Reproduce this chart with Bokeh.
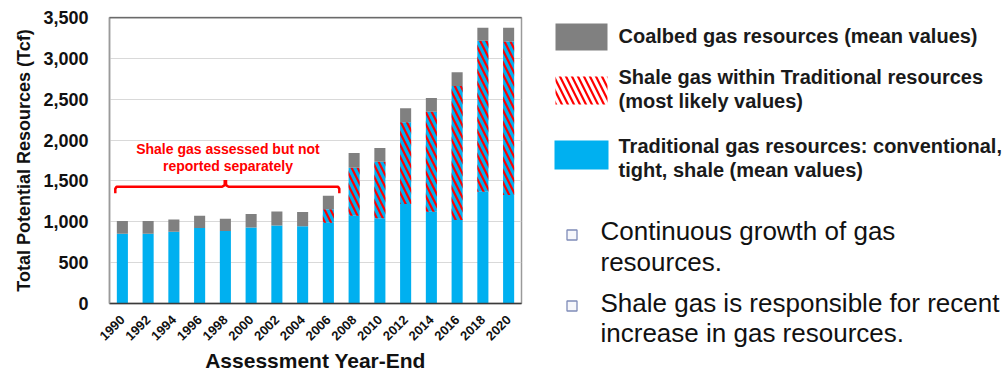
import numpy as np
from bokeh.plotting import figure
from bokeh.layouts import row
from bokeh.models import Range1d, FixedTicker, NumeralTickFormatter, Span, ColumnDataSource
from bokeh.core.properties import value
from bokeh.embed import file_html
from bokeh.resources import INLINE

# Assessment year-ends and resource estimates (Tcf)
years = [1990, 1992, 1994, 1996, 1998, 2000, 2002, 2004,
         2006, 2008, 2010, 2012, 2014, 2016, 2018, 2020]
traditional = [853, 853, 877, 923, 886, 931, 956, 944,
               988, 1074, 1042, 1217, 1123, 1021, 1368, 1327]
shale_within = [0, 0, 0, 0, 0, 0, 0, 0,
                164, 588, 693, 1001, 1225, 1642, 1847, 1879]
coalbed = [156, 156, 152, 151, 151, 163, 171, 175,
           167, 180, 168, 172, 168, 168, 159, 168]
y_ticks = [0, 500, 1000, 1500, 2000, 2500, 3000, 3500]

FONT_NAME = "Liberation Sans"
FONT = value(FONT_NAME)
BLUE = "#00B0F0"
GRAY = "#808080"
RED = "#FF0000"
INK = "#111111"
HATCH = dict(hatch_pattern="\\", hatch_color=RED, hatch_weight=2.2, hatch_scale=12)

t = np.array(traditional, dtype=float)
s = np.array(shale_within, dtype=float)
c = np.array(coalbed, dtype=float)
src = ColumnDataSource(dict(
    year=years,
    t_top=t,
    s_top=t + s,
    c_top=t + s + c,
))

p = figure(width=530, height=377, x_range=Range1d(1989, 2021), y_range=Range1d(0, 3500),
           output_backend="svg", toolbar_location=None,
           min_border_left=109, min_border_right=9, min_border_top=17, min_border_bottom=74)
p.frame_align = False
p.background_fill_color = "white"
p.border_fill_color = "white"
p.outline_line_color = "#9a9a9a"
p.outline_line_width = 1.5

bw = 0.86
p.vbar(x="year", bottom=0, top="t_top", width=bw, source=src, fill_color=BLUE, line_color=None)
p.vbar(x="year", bottom="t_top", top="s_top", width=bw, source=src, fill_color=BLUE, line_color=None,
       **HATCH)
p.vbar(x="year", bottom="s_top", top="c_top", width=bw, source=src, fill_color=GRAY, line_color=None)

p.add_layout(Span(location=3500, dimension="width", line_color="#3a3a3a", line_width=1.5))

p.xgrid.visible = False
p.ygrid.grid_line_color = "#d9d9d9"
p.ygrid.grid_line_width = 1

p.xaxis.ticker = FixedTicker(ticks=years)
p.yaxis.ticker = FixedTicker(ticks=y_ticks)
p.yaxis.formatter = NumeralTickFormatter(format="0,0")
p.xaxis.major_label_orientation = np.pi / 4

for ax in (p.xaxis[0], p.yaxis[0]):
    ax.major_tick_line_color = None
    ax.minor_tick_line_color = None
    ax.major_label_text_font = FONT_NAME
    ax.major_label_text_font_style = "bold"
    ax.major_label_text_color = INK
    ax.axis_label_text_font = FONT_NAME
    ax.axis_label_text_font_style = "bold"
    ax.axis_label_text_color = INK

p.yaxis.axis_line_color = "#9a9a9a"
p.yaxis.axis_line_width = 1.5
p.yaxis.major_label_text_font_size = "18px"
p.yaxis.major_label_standoff = 15
p.yaxis.axis_label = "Total Potential Resources (Tcf)"
p.yaxis.axis_label_text_font_size = "18px"
p.yaxis.axis_label_standoff = 6

p.xaxis.axis_line_color = "#3a3a3a"
p.xaxis.axis_line_width = 1.5
p.xaxis.major_label_text_font_size = "13px"
p.xaxis.major_label_standoff = 8
p.xaxis.axis_label = "Assessment Year-End"
p.xaxis.axis_label_text_font_size = "21px"
p.xaxis.axis_label_standoff = 2

# Bracket over the years where shale was not reported separately
xl, xr, xm = 1989.45, 2006.85, 1998.0
yl, ye, yt = 1429, 1350, 1512
p.line([xl, xl, xl + 0.1, xm - 0.25, xm - 0.05, xm - 0.05], [ye, yl - 25, yl, yl, yl + 20, yt],
       line_color=RED, line_width=2.5)
p.line([xm + 0.05, xm + 0.05, xm + 0.25, xr - 0.1, xr, xr], [yt, yl + 20, yl, yl, yl - 25, ye],
       line_color=RED, line_width=2.5)
p.text(x=[1998.2, 1998.2], y=[1891, 1683],
       text=["Shale gas assessed but not", "reported separately"],
       text_font=FONT, text_font_style="bold", text_font_size="14px",
       text_color=RED, text_align="center", text_baseline="middle")

# Legend and notes panel
q = figure(width=473, height=377, x_range=Range1d(0, 473), y_range=Range1d(377, 0),
           output_backend="svg", toolbar_location=None,
           x_axis_location=None, y_axis_location=None,
           min_border=0, min_border_left=0, min_border_right=0,
           min_border_top=0, min_border_bottom=0)
q.frame_align = False
q.outline_line_color = None
q.grid.visible = False
q.background_fill_color = "white"
q.border_fill_color = "white"

q.quad(left=[25], right=[77], top=[23], bottom=[50], fill_color=GRAY, line_color=None)
q.quad(left=[25], right=[77], top=[76], bottom=[104], fill_color="white", line_color=None,
       **HATCH)
q.quad(left=[24], right=[78], top=[140], bottom=[169], fill_color=BLUE, line_color=None)

legend_lines = ["Coalbed gas resources (mean values)",
                "Shale gas within Traditional resources",
                "(most likely values)",
                "Traditional gas resources: conventional,",
                "tight, shale (mean values)"]
q.text(x=[88] * 5, y=[35.5, 76, 100, 145.5, 169.5], text=legend_lines,
       text_font=FONT, text_font_style="bold", text_font_size="20px",
       text_color="#1a1a1a", text_align="left", text_baseline="middle")

q.scatter(x=[41.5, 41.5], y=[234.5, 305.5], marker="square", size=10,
          fill_color="#f6f7fb", line_color="#7f8cb8", line_width=1.3)
note_lines = ["Continuous growth of gas", "resources.",
              "Shale gas is responsible for recent", "increase in gas resources."]
q.text(x=[70] * 4, y=[230, 261.5, 302, 332.5], text=note_lines,
       text_font=FONT, text_font_size="26px",
       text_color="#111111", text_align="left", text_baseline="middle")

layout = row(p, q, spacing=0)
open("out.html", "w").write(file_html(layout, INLINE))
